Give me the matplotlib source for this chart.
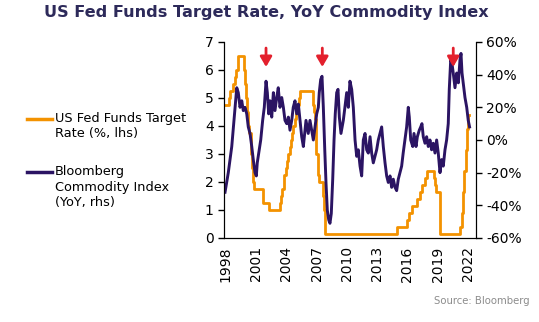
import numpy as np
import matplotlib
matplotlib.use('Agg')
from matplotlib import pyplot as plt
from matplotlib.lines import Line2D

# Fed funds target rate (%), step changes, decimal years
ff_dates = [1999.12, 1999.50, 1999.65, 1999.88, 2000.09, 2000.22, 2000.37, 2001.00, 2001.08,
            2001.21, 2001.30, 2001.37, 2001.49, 2001.64, 2001.71, 2001.75, 2001.85, 2001.94,
            2002.85, 2003.48, 2004.50, 2004.61, 2004.72, 2004.86, 2004.95, 2005.09, 2005.22,
            2005.34, 2005.50, 2005.61, 2005.72, 2005.83, 2005.95, 2006.08, 2006.24, 2006.36,
            2006.49, 2007.71, 2007.83, 2007.94, 2008.06, 2008.08, 2008.21, 2008.33, 2008.77,
            2008.83, 2008.96, 2015.96, 2016.95, 2017.20, 2017.45, 2017.95, 2018.22, 2018.45,
            2018.74, 2018.97, 2019.58, 2019.71, 2019.83, 2020.17, 2020.21, 2022.21, 2022.34,
            2022.46, 2022.57, 2022.72, 2022.84, 2022.96, 2023.04]
ff_rate = [4.75, 5.00, 5.25, 5.50, 5.75, 6.00, 6.50, 6.00, 5.50,
           5.00, 4.50, 4.00, 3.75, 3.50, 3.00, 2.50, 2.00, 1.75,
           1.25, 1.00, 1.25, 1.50, 1.75, 2.00, 2.25, 2.50, 2.75,
           3.00, 3.25, 3.50, 3.75, 4.00, 4.25, 4.50, 4.75, 5.00,
           5.25, 4.75, 4.50, 4.25, 3.50, 3.00, 2.25, 2.00, 1.50,
           1.00, 0.125, 0.375, 0.625, 0.875, 1.125, 1.375, 1.625, 1.875,
           2.125, 2.375, 2.125, 1.875, 1.625, 1.125, 0.125, 0.375, 0.875,
           1.625, 2.375, 3.125, 3.875, 4.375, 4.375]

# Bloomberg Commodity Index, YoY %
bcom_dates = [1999.12, 1999.44, 1999.78, 2000.10, 2000.27, 2000.42, 2000.59, 2000.76, 2000.91,
              2001.08, 2001.25, 2001.40, 2001.57, 2001.74, 2001.89, 2002.06, 2002.19, 2002.28,
              2002.48, 2002.62, 2002.81, 2002.97, 2003.14, 2003.27, 2003.40, 2003.53, 2003.70,
              2003.86, 2004.02, 2004.19, 2004.34, 2004.51, 2004.68, 2004.84, 2005.00, 2005.17,
              2005.33, 2005.49, 2005.66, 2005.81, 2005.98, 2006.15, 2006.31, 2006.47, 2006.64,
              2006.80, 2006.90, 2007.06, 2007.28, 2007.45, 2007.62, 2007.78, 2007.94, 2008.11,
              2008.27, 2008.36, 2008.50, 2008.63, 2008.76, 2008.90, 2009.02, 2009.15, 2009.29,
              2009.41, 2009.54, 2009.68, 2009.81, 2009.93, 2010.07, 2010.20, 2010.33, 2010.49,
              2010.60, 2010.72, 2010.88, 2011.05, 2011.21, 2011.37, 2011.54, 2011.70, 2011.87,
              2012.03, 2012.19, 2012.36, 2012.52, 2012.68, 2012.85, 2013.01, 2013.17, 2013.34,
              2013.50, 2013.66, 2013.83, 2013.99, 2014.15, 2014.32, 2014.48, 2014.64, 2014.81,
              2014.97, 2015.13, 2015.30, 2015.46, 2015.62, 2015.79, 2015.95, 2016.11, 2016.28,
              2016.44, 2016.59, 2016.76, 2016.93, 2017.09, 2017.19, 2017.33, 2017.53, 2017.65,
              2017.85, 2017.98, 2018.17, 2018.31, 2018.43, 2018.56, 2018.73, 2018.89, 2019.05,
              2019.22, 2019.38, 2019.54, 2019.71, 2019.87, 2020.03, 2020.20, 2020.36, 2020.52,
              2020.69, 2020.85, 2021.01, 2021.11, 2021.25, 2021.37, 2021.50, 2021.67, 2021.84,
              2022.00, 2022.16, 2022.26, 2022.36, 2022.48, 2022.65, 2022.82, 2022.97, 2023.10]
bcom_yoy = [-32, -20, -4, 20, 32, 29, 20, 24, 18,
            20, 16, 8, 4, -4, -12, -20, -22, -14,
            -6, 0, 12, 20, 36, 29, 16, 24, 14,
            29, 18, 26, 32, 20, 26, 20, 12, 10,
            14, 6, 12, 20, 24, 16, 22, 12, 2,
            -4, 2, 12, 4, 12, 6, 0, 8, 16,
            20, 29, 37, 39, 20, -6, -26, -43, -49,
            -51, -45, -24, 0, 16, 29, 31, 14, 4,
            8, 12, 20, 29, 20, 36, 31, 20, 0,
            -10, -6, -16, -22, 0, 4, -6, -8, 2,
            -8, -14, -10, -6, 0, 4, 8, -4, -14,
            -22, -26, -22, -29, -24, -29, -31, -24, -20,
            -16, -8, 0, 8, 20, 14, 0, -4, 4,
            -4, 2, 6, 8, 10, 2, -2, 2, -4,
            0, -6, -2, -8, 0, -8, -20, -12, -16,
            -6, 0, 10, 31, 49, 47, 41, 32, 41,
            35, 49, 53, 41, 35, 26, 20, 12, 8]

tick_labels = ['1998', '2001', '2004', '2007', '2010', '2013', '2016', '2019', '2022']
arrow_dates = [2003.14, 2008.66, 2021.50]

orange = '#F39200'
purple = '#2B1463'
navy = '#2D2A5A'

fig = plt.figure(figsize=(5.39, 3.22), dpi=100)
ax = fig.add_axes([0.4156, 0.2609, 0.4675, 0.6087])
ax2 = ax.twinx()

ax.plot(ff_dates, ff_rate, color=orange, lw=2.0, drawstyle='steps-post')
ax2.plot(bcom_dates, bcom_yoy, color=purple, lw=2.1)

ax.set_xlim(1999.02, 2023.73)
ax.set_ylim(0, 7)
ax2.set_ylim(-60, 60)
ax.set_yticks(np.arange(0, 8, 1))
ax2.set_yticks(np.arange(-60, 61, 20))
ax2.set_yticklabels(['%d%%' % v for v in range(-60, 61, 20)])
ax.set_xticks(np.linspace(1999.2, 2022.95, 9))
ax.set_xticklabels(tick_labels, rotation=90)

for a in (ax, ax2):
    a.spines['top'].set_visible(False)
    a.tick_params(labelsize=10, width=1, length=4, colors='black')
ax.tick_params(axis='x', length=0, pad=6)

for x in arrow_dates:
    ax2.annotate('', xy=(x, 43), xytext=(x, 58), annotation_clip=False,
                 arrowprops=dict(arrowstyle='-|>,head_width=0.35,head_length=0.6',
                                 color='#E3202D', lw=2))

fig.text(0.495, 0.962, 'US Fed Funds Target Rate, YoY Commodity Index',
         ha='center', va='center', fontsize=11.6, fontweight='bold', color=navy)

# legend drawn by hand to keep handles level with the first text line
fig.add_artist(Line2D([27 / 539, 52 / 539], [1 - 119 / 322] * 2, color=orange, lw=2.5))
fig.text(55 / 539, 1 - 112 / 322, 'US Fed Funds Target\nRate (%, lhs)', ha='left', va='top',
         fontsize=9.3, linespacing=1.2)
fig.add_artist(Line2D([27 / 539, 52 / 539], [1 - 172 / 322] * 2, color=purple, lw=2.5))
fig.text(55 / 539, 1 - 165 / 322, 'Bloomberg\nCommodity Index\n(YoY, rhs)', ha='left', va='top',
         fontsize=9.3, linespacing=1.25)

fig.text(0.983, 0.065, 'Source: Bloomberg', ha='right', va='center', fontsize=7.3, color='#8C8C8C')

plt.savefig('out.png', dpi=100)
